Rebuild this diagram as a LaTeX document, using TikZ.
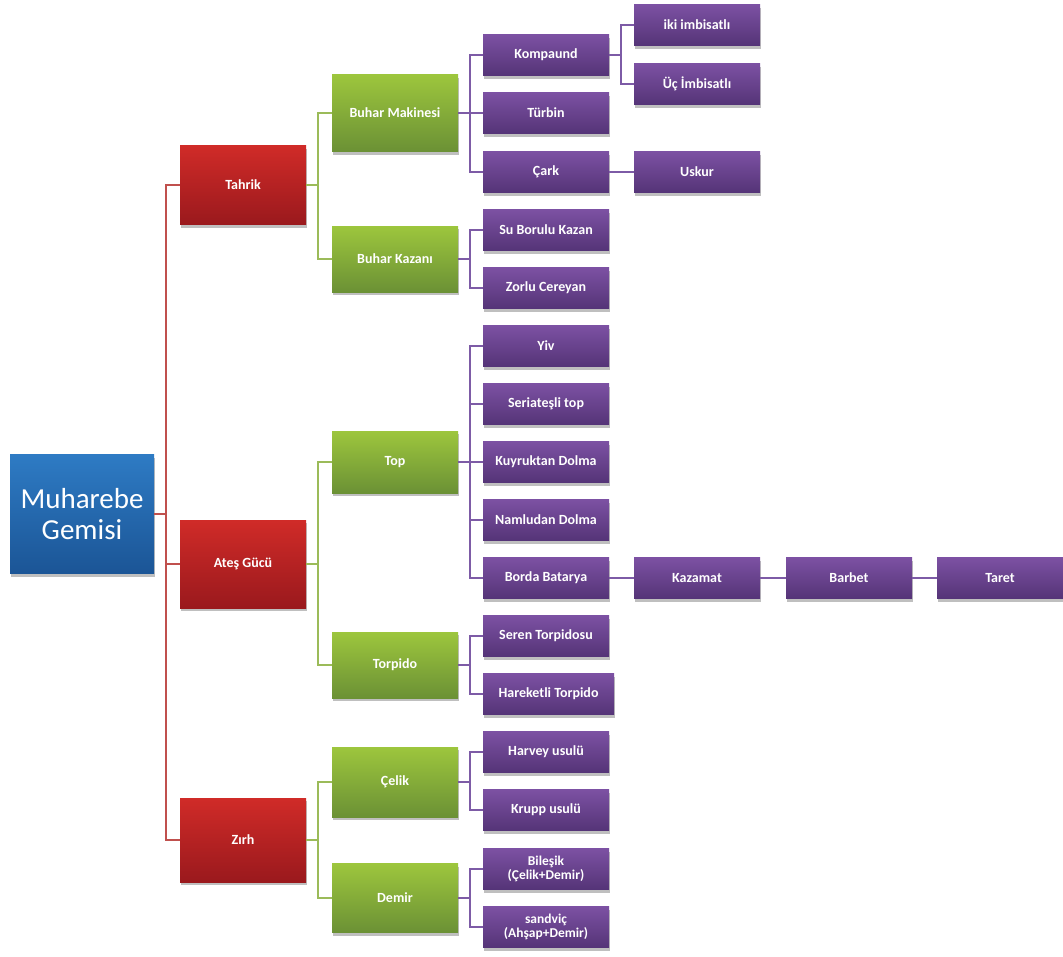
\documentclass[tikz,border=0pt]{standalone}
\usepackage{fontspec}
\setmainfont{Carlito}
\usetikzlibrary{shadows}
\definecolor{rootT}{HTML}{2E7BC4}
\definecolor{rootB}{HTML}{1B5596}
\definecolor{redT}{HTML}{D02B28}
\definecolor{redB}{HTML}{9A191D}
\definecolor{grnT}{HTML}{9DC63D}
\definecolor{grnB}{HTML}{6B9135}
\definecolor{purT}{HTML}{7C51A3}
\definecolor{purB}{HTML}{553477}
\definecolor{redL}{HTML}{C0504D}
\definecolor{grnL}{HTML}{9BBB59}
\definecolor{purL}{HTML}{7D5BA6}
\begin{document}
\begin{tikzpicture}[x=1pt,y=-1pt,
  box/.style={rectangle, draw=none, text=white, align=center, inner sep=1pt,
    font=\bfseries\fontsize{14}{14}\selectfont,
    drop shadow={shadow xshift=1pt, shadow yshift=-3pt, opacity=0.25, fill=black}},
  rootbox/.style={box, minimum width=144pt, minimum height=119pt, top color=rootT, bottom color=rootB,
    font=\fontsize{29}{31}\selectfont},
  redbox/.style={box, minimum width=126pt, top color=redT, bottom color=redB},
  grnbox/.style={box, minimum width=126pt, top color=grnT, bottom color=grnB},
  purbox/.style={box, minimum width=126pt, minimum height=41pt, top color=purT, bottom color=purB},
  redline/.style={draw=redL, line width=2pt},
  grnline/.style={draw=grnL, line width=2pt},
  purline/.style={draw=purL, line width=2pt}]
\useasboundingbox (0,0) rectangle (1063,956);

% root
\node[rootbox] (root) at (82,514) {Muharebe\\Gemisi};
% level 1
\node[redbox, minimum height=79pt] (tahrik) at (243,185) {Tahrik};
\node[redbox, minimum height=88pt] (ates) at (243,564) {Ateş Gücü};
\node[redbox, minimum height=84pt] (zirh) at (243,840) {Zırh};
% level 2
\node[grnbox, minimum height=77pt] (bm) at (395,113) {Buhar Makinesi};
\node[grnbox, minimum height=66pt] (bk) at (395,259) {Buhar Kazanı};
\node[grnbox, minimum height=62pt] (top) at (395,462) {Top};
\node[grnbox, minimum height=66pt] (torp) at (395,665) {Torpido};
\node[grnbox, minimum height=70pt] (celik) at (395,782) {Çelik};
\node[grnbox, minimum height=69pt] (demir) at (395,898) {Demir};
% level 3
\node[purbox] (komp) at (546,55) {Kompaund};
\node[purbox] (turb) at (546,113) {Türbin};
\node[purbox] (cark) at (546,172) {Çark};
\node[purbox] (subk) at (546,230) {Su Borulu Kazan};
\node[purbox] (zorlu) at (546,288) {Zorlu Cereyan};
\node[purbox] (yiv) at (546,346) {Yiv};
\node[purbox] (seri) at (546,404) {Seriateşli top};
\node[purbox] (kuyr) at (546,462) {Kuyruktan Dolma};
\node[purbox] (naml) at (546,520) {Namludan Dolma};
\node[purbox] (borda) at (546,578) {Borda Batarya};
\node[purbox] (seren) at (546,636) {Seren Torpidosu};
\node[purbox, minimum width=131pt] (hare) at (548.5,694) {Hareketli Torpido};
\node[purbox] (harv) at (546,752) {Harvey usulü};
\node[purbox] (krupp) at (546,810) {Krupp usulü};
\node[purbox, font=\bfseries\fontsize{13.5}{14.5}\selectfont] (biles) at (546,869) {Bileşik\\(Çelik+Demir)};
\node[purbox, font=\bfseries\fontsize{13.5}{14.5}\selectfont] (sandv) at (546,927) {sandviç\\(Ahşap+Demir)};
% level 4+
\node[purbox] (iki) at (697,25) {iki imbisatlı};
\node[purbox] (uc) at (697,84) {Üç İmbisatlı};
\node[purbox] (uskur) at (697,172) {Uskur};
\node[purbox] (kaza) at (697,578) {Kazamat};
\node[purbox] (barb) at (849,578) {Barbet};
\node[purbox] (taret) at (1000,578) {Taret};

% connectors root
\foreach \c in {tahrik,ates,zirh}
  \draw[redline] (root.east) -- ++(12,0) |- (\c.west);
% red -> green
\foreach \c in {bm,bk} \draw[grnline] (tahrik.east) -- ++(12,0) |- (\c.west);
\foreach \c in {top,torp} \draw[grnline] (ates.east) -- ++(12,0) |- (\c.west);
\foreach \c in {celik,demir} \draw[grnline] (zirh.east) -- ++(12,0) |- (\c.west);
% green -> purple
\foreach \c in {komp,turb,cark} \draw[purline] (bm.east) -- ++(12,0) |- (\c.west);
\foreach \c in {subk,zorlu} \draw[purline] (bk.east) -- ++(12,0) |- (\c.west);
\foreach \c in {yiv,seri,kuyr,naml,borda} \draw[purline] (top.east) -- ++(12,0) |- (\c.west);
\foreach \c in {seren,hare} \draw[purline] (torp.east) -- ++(12,0) |- (\c.west);
\foreach \c in {harv,krupp} \draw[purline] (celik.east) -- ++(12,0) |- (\c.west);
\foreach \c in {biles,sandv} \draw[purline] (demir.east) -- ++(12,0) |- (\c.west);
% purple -> purple
\foreach \c in {iki,uc} \draw[purline] (komp.east) -- ++(12,0) |- (\c.west);
\draw[purline] (cark.east) -- (uskur.west);
\draw[purline] (borda.east) -- (kaza.west);
\draw[purline] (kaza.east) -- (barb.west);
\draw[purline] (barb.east) -- (taret.west);
\end{tikzpicture}
\end{document}
